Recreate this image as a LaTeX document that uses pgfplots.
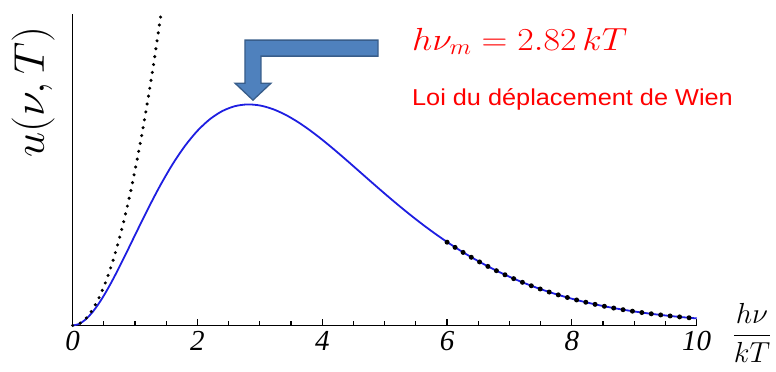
\RequirePackage{fix-cm}
\documentclass[border=0pt]{standalone}
\usepackage{pgfplots}
\pgfplotsset{compat=1.18}
\usepackage{fontspec}
\setmainfont{Liberation Serif}
\newfontfamily\arial{Liberation Sans}
\definecolor{planck}{RGB}{30,30,225}
\definecolor{arrowfill}{RGB}{79,129,189}
\definecolor{arrowedge}{RGB}{56,93,138}

\begin{document}
\begin{tikzpicture}
\begin{axis}[
  scale only axis, width=624pt, height=311pt,
  xmin=0, xmax=10, ymin=0, ymax=2,
  axis x line=bottom, axis y line=left,
  axis line style={-, line width=1.6pt, black},
  xtick={0,2,4,6,8,10},
  xticklabels={0,2,4,6,8,10},
  minor x tick num=3,
  ytick=\empty,
  tick align=inside,
  major tick length=6pt, minor tick length=4pt,
  tick style={line width=1.2pt, black},
  xticklabel style={font=\fontsize{29}{29}\selectfont\itshape, yshift=-2pt},
  clip=false,
]
% Planck spectrum x^3/(e^x-1)
\addplot[planck, line width=1.8pt, smooth] coordinates {
(0,0) (0.1,0.00951) (0.2,0.03613) (0.3,0.07717) (0.4,0.13013) (0.5,0.19269)
(0.6,0.26274) (0.7,0.33835) (0.8,0.41778) (0.9,0.49945) (1.0,0.58198)
(1.2,0.74479) (1.4,0.89814) (1.6,1.03617) (1.8,1.15493) (2.0,1.25214)
(2.2,1.32685) (2.4,1.37920) (2.6,1.41019) (2.8,1.42133) (3.0,1.41468)
(3.2,1.39246) (3.4,1.35699) (3.6,1.31063) (3.8,1.25562) (4.0,1.19407)
(4.2,1.12791) (4.4,1.05883) (4.6,0.98834) (4.8,0.91770) (5.0,0.84795)
(5.2,0.77998) (5.4,0.71443) (5.6,0.65181) (5.8,0.59251) (6.0,0.53674)
(6.2,0.48465) (6.4,0.43629) (6.6,0.39163) (6.8,0.35059) (7.0,0.31306)
(7.2,0.27887) (7.4,0.24785) (7.6,0.21980) (7.8,0.19452) (8.0,0.17181)
(8.2,0.15148) (8.4,0.13331) (8.6,0.11712) (8.8,0.10274) (9.0,0.08998)
(9.2,0.07869) (9.4,0.06872) (9.6,0.05993) (9.8,0.05219) (10.0,0.04540)
};
% Rayleigh-Jeans limit x^2
\addplot[black, line width=3.4pt, line cap=round, dash pattern=on 0pt off 8pt, smooth] coordinates {
(0,0) (0.1,0.01) (0.2,0.04) (0.3,0.09) (0.4,0.16) (0.5,0.25) (0.6,0.36)
(0.7,0.49) (0.8,0.64) (0.9,0.81) (1.0,1.0) (1.1,1.21) (1.2,1.44)
(1.3,1.69) (1.4,1.96) (1.414,2.0)
};
% Wien limit x^3 e^{-x}
\addplot[black, line width=5pt, line cap=round, dash pattern=on 0pt off 9.5pt, smooth] coordinates {
(6.0,0.53541) (6.2,0.48367) (6.4,0.43556) (6.6,0.39110) (6.8,0.35021)
(7.0,0.31278) (7.2,0.27866) (7.4,0.24770) (7.6,0.21969) (7.8,0.19444)
(8.0,0.17176) (8.2,0.15144) (8.4,0.13328) (8.6,0.11710) (8.8,0.10272)
(9.0,0.08997) (9.2,0.07868) (9.4,0.06871) (9.6,0.05992) (9.8,0.05219)
(10.0,0.04540)
};
% bent arrow pointing at the maximum
\draw[fill=arrowfill, draw=arrowedge, line width=1.3pt, line join=miter]
  (axis cs:2.761,1.835) -- (axis cs:4.893,1.835) -- (axis cs:4.893,1.732)
  -- (axis cs:3.017,1.732) -- (axis cs:3.017,1.558) -- (axis cs:3.178,1.558)
  -- (axis cs:2.889,1.449) -- (axis cs:2.601,1.558) -- (axis cs:2.761,1.558) -- cycle;
% annotations
\node[anchor=base west, red, inner sep=0pt, font=\fontsize{32}{32}\selectfont]
  at (axis cs:5.437,1.771) {\scalebox{1.12}[1]{$h\nu_m = 2.82\,kT$}};
\node[anchor=base west, red, inner sep=0pt, font=\fontsize{23}{23}\selectfont\arial]
  at (axis cs:5.437,1.417) {\scalebox{1.1}[1]{Loi du déplacement de Wien}};
% axis labels
\node[rotate=90, inner sep=0pt, font=\fontsize{43}{43}\selectfont]
  at (axis cs:-0.636,1.50) {\scalebox{1.05}[1]{$u(\nu,T)$}};
\node[inner sep=0pt, font=\fontsize{29}{29}\selectfont]
  at (axis cs:10.886,-0.048) {$\displaystyle\frac{h\nu}{kT}$};
\coordinate (BBll) at (axis cs:-1.165,-0.296);
\coordinate (BBur) at (axis cs:11.271,2.093);
\end{axis}
\pgfresetboundingbox
\useasboundingbox (BBll) rectangle (BBur);
\end{tikzpicture}
\end{document}
